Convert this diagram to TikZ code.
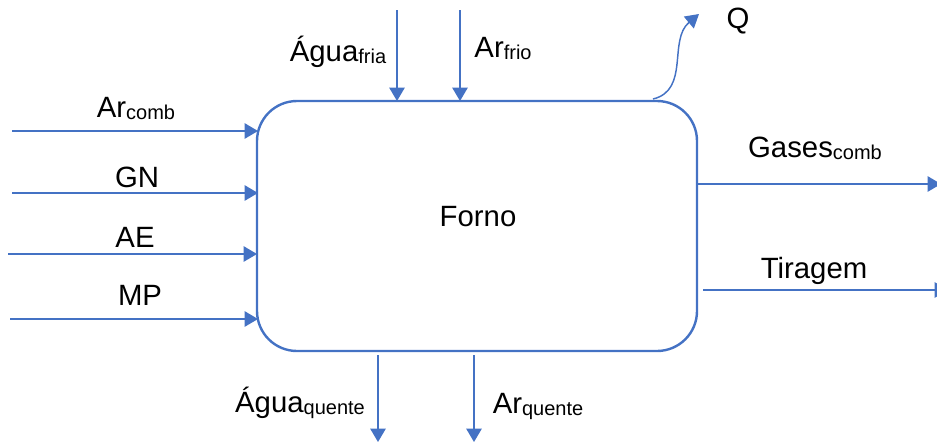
\documentclass[tikz,border=0pt]{standalone}
\usepackage{fontspec}
\setmainfont{Liberation Sans}
\usetikzlibrary{arrows.meta}
\definecolor{ln}{HTML}{4472C4}
\newcommand{\sbs}[1]{\raisebox{-1.5pt}{\fontsize{15}{17}\selectfont #1}}
\tikzset{flowtip/.tip={Triangle[length=10pt,width=11.5pt]}}
\begin{document}
\begin{tikzpicture}[x=0.75pt,y=-0.75pt,
  flow/.style={draw=ln,line width=1.1pt,-flowtip},
  lbl/.style={font=\fontsize{22}{24}\selectfont,inner sep=0pt,anchor=base},
  boxst/.style={draw=ln,line width=1.8pt,rounded corners=30pt,minimum width=330pt,minimum height=187.5pt,inner sep=0pt}]
\useasboundingbox (0,0) rectangle (937,443);
\node[boxst] (forno) at (477,226) {};
\node[lbl] (fornolbl) at (478,226) {Forno};
% left inputs
\coordinate (a1) at (12,131); \coordinate (b1) at (258,131);
\coordinate (a2) at (12,193); \coordinate (b2) at (258,193);
\coordinate (a3) at (8,254);  \coordinate (b3) at (257,254);
\coordinate (a4) at (10,319); \coordinate (b4) at (258,319);
\draw[flow] (a1) -- (b1);
\draw[flow] (a2) -- (b2);
\draw[flow] (a3) -- (b3);
\draw[flow] (a4) -- (b4);
\node[lbl] (l1) at (136,117) {Ar\sbs{comb}};
\node[lbl] (l2) at (137,187) {GN};
\node[lbl] (l3) at (135,247) {AE};
\node[lbl] (l4) at (140,305) {MP};
% top inputs
\coordinate (t1) at (397,10); \coordinate (u1) at (397,101);
\coordinate (t2) at (460,10); \coordinate (u2) at (460,101);
\draw[flow] (t1) -- (u1);
\draw[flow] (t2) -- (u2);
\node[lbl] (l5) at (338,61) {Água\sbs{fria}};
\node[lbl] (l6) at (503,57) {Ar\sbs{frio}};
% Q
\coordinate (q0) at (653,99); \coordinate (q1) at (699,14);
\draw[flow] (q0) .. controls (690,90) and (668,40) .. (q1);
\node[lbl] (lq) at (738,28) {Q};
% right outputs
\coordinate (r1) at (697,184); \coordinate (s1) at (941,184);
\coordinate (r2) at (703,290); \coordinate (s2) at (948,290);
\draw[flow] (r1) -- (s1);
\draw[flow] (r2) -- (s2);
\node[lbl] (l7) at (815,157) {Gases\sbs{comb}};
\node[lbl] (l8) at (814,278) {Tiragem};
% bottom outputs
\coordinate (d1) at (378,355); \coordinate (e1) at (378,442);
\coordinate (d2) at (474,355); \coordinate (e2) at (474,442);
\draw[flow] (d1) -- (e1);
\draw[flow] (d2) -- (e2);
\node[lbl] (l9) at (300,412) {Água\sbs{quente}};
\node[lbl] (l10) at (538,413) {Ar\sbs{quente}};
\end{tikzpicture}
\end{document}
